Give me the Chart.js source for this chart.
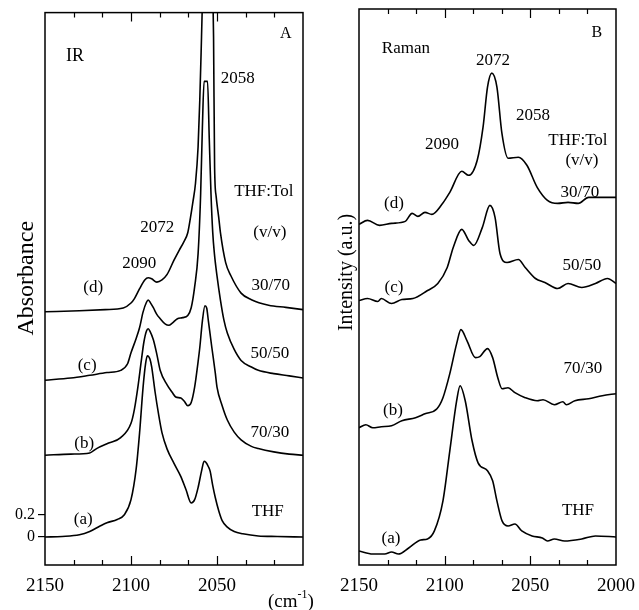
<!DOCTYPE html>
<html>
<head>
<meta charset="utf-8">
<script src="https://cdn.jsdelivr.net/npm/chart.js@4.4.0/dist/chart.umd.min.js"></script>
<style>
  body { margin: 0; background: #fff; }
  #wrapA { position: absolute; left: 0; top: 0; width: 320px; height: 610px; }
  #wrapB { position: absolute; left: 320px; top: 0; width: 319px; height: 610px; }
</style>
</head>
<body>
<div id="wrapA"><canvas id="irChart"></canvas></div>
<div id="wrapB"><canvas id="ramanChart"></canvas></div>
<script>
// ---- IR (panel A): absorbance above each trace's own baseline ----
const irOffsets = [0, 0.745, 1.427, 2.05];   // (a) (b) (c) (d)

const irWn_a = [2150,2140,2130,2124,2118,2114,2108,2104,2100,2097,2095,2093,2091.5,2090.5,2089,2088,2086,2084,2082,2079,2075,2071,2068,2065,2063,2061,2059,2057.5,2056.5,2055,2054,2052.5,2051,2049,2047,2044,2040,2035,2026,2015,2000];
const irAbs_a = [0,0.005,0.02,0.05,0.10,0.13,0.16,0.20,0.34,0.62,0.95,1.36,1.58,1.65,1.62,1.55,1.32,1.12,0.95,0.80,0.67,0.55,0.43,0.31,0.34,0.45,0.60,0.69,0.68,0.64,0.60,0.47,0.36,0.24,0.15,0.09,0.05,0.03,0.01,0.005,0];

const irWn_b = [2150,2135,2124,2120,2113,2106,2100,2098,2096,2094,2092.5,2091,2090,2089,2087,2085,2083,2079,2076,2074,2071,2069,2067,2065,2063,2061,2060,2058.5,2057,2056,2055,2053,2051,2050,2047,2044,2040,2036,2030,2026,2017,2008,2000];
const irAbs_b = [0,0.01,0.02,0.06,0.11,0.16,0.29,0.42,0.62,0.86,1.03,1.13,1.15,1.13,1.05,0.92,0.77,0.64,0.57,0.53,0.52,0.49,0.45,0.48,0.62,0.85,0.98,1.22,1.36,1.34,1.22,0.98,0.75,0.62,0.45,0.32,0.21,0.14,0.08,0.06,0.03,0.01,0];

const irWn_c = [2150,2135,2124,2114,2106,2102,2100,2097,2095,2093,2091,2090,2088.5,2087,2085,2083,2080,2078,2076,2073,2070,2067,2065,2063,2061,2059.5,2058.5,2057.5,2055.5,2054.5,2053.5,2052.5,2051.5,2050,2048,2046,2044,2040,2036,2030,2026,2017,2008,2000];
const irAbs_c = [0,0.02,0.045,0.07,0.09,0.15,0.25,0.38,0.48,0.62,0.71,0.73,0.70,0.66,0.60,0.56,0.51,0.50,0.52,0.56,0.57,0.59,0.66,0.85,1.15,1.7,2.3,2.72,2.72,2.2,1.7,1.35,1.15,0.95,0.73,0.55,0.43,0.28,0.18,0.12,0.09,0.06,0.04,0.02];

const irWn_d = [2150,2130,2115,2104.5,2100,2098,2095,2092,2090,2088,2085,2082,2079,2075,2072,2069.5,2067,2065.4,2064,2062.5,2061,2060,2059,2058,2056.5,2055,2053.5,2052.5,2052,2051.4,2050.5,2049,2048,2045,2042,2036,2030,2020,2010,2000];
const irAbs_d = [0,0.01,0.02,0.035,0.08,0.12,0.21,0.29,0.31,0.30,0.27,0.29,0.34,0.47,0.56,0.63,0.72,0.86,1.0,1.17,1.5,1.93,2.5,3.1,3.6,3.7,3.5,3.0,2.5,1.32,1.05,0.86,0.72,0.45,0.33,0.17,0.11,0.06,0.04,0.02];

// ---- Raman (panel B): intensity as plotted (traces already stacked) ----
const ramanWn_a = [2150,2142,2135,2131,2127,2121,2114,2110,2106,2101,2097,2093,2091,2088,2084,2080.5,2075,2072,2069.5,2066.5,2063,2059,2055,2049,2043,2040,2036,2030,2020,2012,2000];
const ramanI_a = [1.4,1.1,1.1,1.3,1.1,1.7,2.5,2.6,3.4,6.4,11.4,16.4,17.9,16.4,12.4,10.2,9.4,8.4,6.4,4.4,3.9,4.1,3.4,2.9,2.7,2.4,2.6,2.4,2.6,2.9,2.8];

const ramanWn_b = [2150,2146,2142,2137,2131,2125,2117,2111.5,2104.5,2101,2097,2093,2090.5,2087,2082,2079.5,2075,2072,2069,2066.5,2063,2059,2053,2046,2042.6,2036,2031,2029,2024,2016,2008,2000];
const ramanI_b = [13.7,14.0,13.7,13.8,13.9,14.4,14.7,15.1,15.6,16.7,19.1,22.1,23.5,22.4,20.7,20.8,21.6,20.7,18.7,17.6,17.7,17.2,16.7,16.4,16.5,16.0,16.3,16.0,16.4,16.6,16.9,17.1];

const ramanWn_c = [2150,2145,2139,2137,2131,2125,2118.5,2110,2104,2098.5,2095,2090,2086,2083,2078,2073.6,2070.6,2067.7,2063.6,2057,2053,2047,2041.5,2034,2028,2020,2012,2005,2000];
const ramanI_c = [26.4,26.6,26.3,26.6,26.1,26.5,26.6,27.4,28.1,29.7,31.7,33.5,32.4,31.9,33.7,35.9,34.7,31.1,30.2,30.5,29.7,28.6,28.2,27.6,28.1,27.7,28.1,28.6,28.1];

const ramanWn_d = [2150,2145,2138,2131,2123,2119,2115.6,2111.5,2107.5,2101.6,2097,2090,2086,2081,2077.6,2075,2072.5,2069.5,2066.6,2063,2057,2052,2046,2040,2034,2028,2022,2016,2008,2000];
const ramanI_d = [34.0,34.4,33.9,34.1,34.3,35.1,34.8,35.2,35.0,36.0,37.2,39.3,38.9,40.4,43.7,47.7,49.1,47.7,43.1,40.6,40.7,39.9,37.7,36.4,36.1,36.2,36.1,36.7,36.7,36.7];

const xTickLabels = [2150, 2100, 2050, 2000];

Chart.defaults.font.family = '"Liberation Serif", "Times New Roman", serif';
Chart.defaults.color = '#000';

function toPoints(wn, vals, off) {
    return wn.map((w, i) => ({ x: w, y: vals[i] + (off || 0) }));
}

function trace(data) {
    return {
        data: data,
        borderColor: '#000',
        borderWidth: 1.6,
        pointRadius: 0,
        fill: false,
        cubicInterpolationMode: 'monotone',
        clip: 0
    };
}

function isMajor(v) {
    return Math.abs(Math.round(v / 50) * 50 - v) < 0.01;
}

function xScale(shown) {
    return {
        type: 'linear',
        reverse: true,
        min: 2000,
        max: 2150,
        afterBuildTicks: (s) => {
            s.ticks = [];
            for (let i = 0; i <= 9; i++) s.ticks.push({ value: 2000 + i * 50 / 3 });
        },
        afterFit: (s) => { s.height = 45; },
        ticks: {
            autoSkip: false,
            maxRotation: 0,
            padding: 10,
            font: { size: 19 },
            callback: (v) => {
                if (!isMajor(v)) return '';
                const r = Math.round(v);
                return shown.includes(r) ? String(r) : '';
            }
        },
        grid: { display: false, drawTicks: false },
        border: { display: false }
    };
}

// frame, inward ticks and the text notes, placed with the chart's own scales
const framePlugin = {
    id: 'frame',
    afterDatasetsDraw(chart, args, opts) {
        const { ctx, chartArea: a, scales: { x, y } } = chart;
        ctx.save();
        ctx.strokeStyle = '#000';
        ctx.lineWidth = 1.5;
        ctx.strokeRect(a.left, a.top, a.right - a.left, a.bottom - a.top);
        ctx.lineWidth = 1.2;
        x.ticks.forEach(t => {
            if (t.value <= x.min + 0.1 || t.value >= x.max - 0.1) return;
            const px = Math.round(x.getPixelForValue(t.value)) + 0.5;
            const len = isMajor(t.value) ? 9 : 5;
            ctx.beginPath();
            ctx.moveTo(px, a.bottom); ctx.lineTo(px, a.bottom - len);
            ctx.moveTo(px, a.top); ctx.lineTo(px, a.top + len);
            ctx.stroke();
        });

        ctx.fillStyle = '#000';
        ctx.textAlign = 'center';
        ctx.textBaseline = 'middle';
        (opts.notes || []).forEach(n => {
            ctx.font = (n.size || 17) + 'px "Liberation Serif"';
            ctx.fillText(n.text, x.getPixelForValue(n.x), y.getPixelForValue(n.y));
        });

        if (opts.yTitle) {
            const t = opts.yTitle;
            ctx.save();
            ctx.translate(a.left - t.gap, y.getPixelForValue(t.y));
            ctx.rotate(-Math.PI / 2);
            ctx.font = t.size + 'px "Liberation Serif"';
            ctx.fillText(t.text, 0, 0);
            ctx.restore();
        }

        if (opts.unit) {
            // (cm-1) with a raised -1
            const u = opts.unit;
            const big = '19px "Liberation Serif"', small = '12px "Liberation Serif"';
            ctx.font = big;
            const w1 = ctx.measureText('(cm').width, w3 = ctx.measureText(')').width;
            ctx.font = small;
            const w2 = ctx.measureText('-1').width;
            let cx = x.getPixelForValue(u.x) - (w1 + w2 + w3) / 2;
            const cy = a.bottom + u.dy;
            ctx.textAlign = 'left';
            ctx.font = big; ctx.fillText('(cm', cx, cy); cx += w1;
            ctx.font = small; ctx.fillText('-1', cx, cy - 7); cx += w2;
            ctx.font = big; ctx.fillText(')', cx, cy);
        }
        ctx.restore();
    }
};

new Chart(document.getElementById('irChart'), {
    type: 'line',
    data: {
        datasets: [
            trace(toPoints(irWn_a, irAbs_a, irOffsets[0])),
            trace(toPoints(irWn_b, irAbs_b, irOffsets[1])),
            trace(toPoints(irWn_c, irAbs_c, irOffsets[2])),
            trace(toPoints(irWn_d, irAbs_d, irOffsets[3]))
        ]
    },
    options: {
        responsive: true,
        maintainAspectRatio: false,
        animation: false,
        devicePixelRatio: 1,
        layout: { padding: { left: 0, right: 17, top: 12, bottom: 0 } },
        scales: {
            x: xScale([2150, 2100, 2050]),
            y: {
                min: -0.2545,
                max: 4.773,
                afterBuildTicks: (s) => { s.ticks = [{ value: 0 }, { value: 0.2 }]; },
                afterFit: (s) => { s.width = 45; },
                ticks: {
                    padding: 3,
                    font: { size: 16 },
                    callback: (v) => (Math.abs(v) < 1e-6 ? '0' : '0.2')
                },
                grid: { drawOnChartArea: false, drawTicks: true, tickLength: 7, color: '#000', lineWidth: 1.2 },
                border: { display: false }
            }
        },
        plugins: {
            legend: { display: false },
            tooltip: { enabled: false },
            frame: {
                notes: [
                    { text: 'A', x: 2010, y: 4.58, size: 16 },
                    { text: 'IR', x: 2132.5, y: 4.38, size: 18 },
                    { text: '2058', x: 2038, y: 4.17 },
                    { text: 'THF:Tol', x: 2022.8, y: 3.14 },
                    { text: '2072', x: 2084.7, y: 2.82 },
                    { text: '(v/v)', x: 2019.3, y: 2.77 },
                    { text: '2090', x: 2095.2, y: 2.49 },
                    { text: '(d)', x: 2122, y: 2.27 },
                    { text: '30/70', x: 2018.75, y: 2.29 },
                    { text: '(c)', x: 2125.5, y: 1.56 },
                    { text: '50/50', x: 2019.3, y: 1.67 },
                    { text: '(b)', x: 2127.25, y: 0.85 },
                    { text: '70/30', x: 2019.3, y: 0.95 },
                    { text: '(a)', x: 2127.8, y: 0.155 },
                    { text: 'THF', x: 2020.5, y: 0.23 }
                ],
                yTitle: { text: 'Absorbance', size: 24, gap: 18, y: 2.355 },
                unit: { x: 2007, dy: 37 }
            }
        }
    },
    plugins: [framePlugin]
});

new Chart(document.getElementById('ramanChart'), {
    type: 'line',
    data: {
        datasets: [
            trace(toPoints(ramanWn_a, ramanI_a)),
            trace(toPoints(ramanWn_b, ramanI_b)),
            trace(toPoints(ramanWn_c, ramanI_c)),
            trace(toPoints(ramanWn_d, ramanI_d))
        ]
    },
    options: {
        responsive: true,
        maintainAspectRatio: false,
        animation: false,
        devicePixelRatio: 1,
        layout: { padding: { left: 39, right: 23, top: 9, bottom: 0 } },
        scales: {
            x: xScale(xTickLabels),
            y: { display: false, min: 0, max: 55.5 }
        },
        plugins: {
            legend: { display: false },
            tooltip: { enabled: false },
            frame: {
                notes: [
                    { text: 'B', x: 2011.2, y: 53.1, size: 16 },
                    { text: 'Raman', x: 2122.6, y: 51.6 },
                    { text: '2072', x: 2071.8, y: 50.4 },
                    { text: '2058', x: 2048.5, y: 44.9 },
                    { text: '2090', x: 2101.6, y: 42.0 },
                    { text: 'THF:Tol', x: 2022.2, y: 42.4 },
                    { text: '(v/v)', x: 2019.9, y: 40.4 },
                    { text: '30/70', x: 2021.1, y: 37.2 },
                    { text: '(d)', x: 2129.6, y: 36.1 },
                    { text: '50/50', x: 2019.9, y: 29.9 },
                    { text: '(c)', x: 2129.6, y: 27.7 },
                    { text: '70/30', x: 2019.3, y: 19.6 },
                    { text: '(b)', x: 2130.2, y: 15.4 },
                    { text: 'THF', x: 2022.2, y: 5.4 },
                    { text: '(a)', x: 2131.3, y: 2.6 }
                ],
                yTitle: { text: 'Intensity (a.u.)', size: 20, gap: 12, y: 29.2 }
            }
        }
    },
    plugins: [framePlugin]
});
</script>
</body>
</html>
